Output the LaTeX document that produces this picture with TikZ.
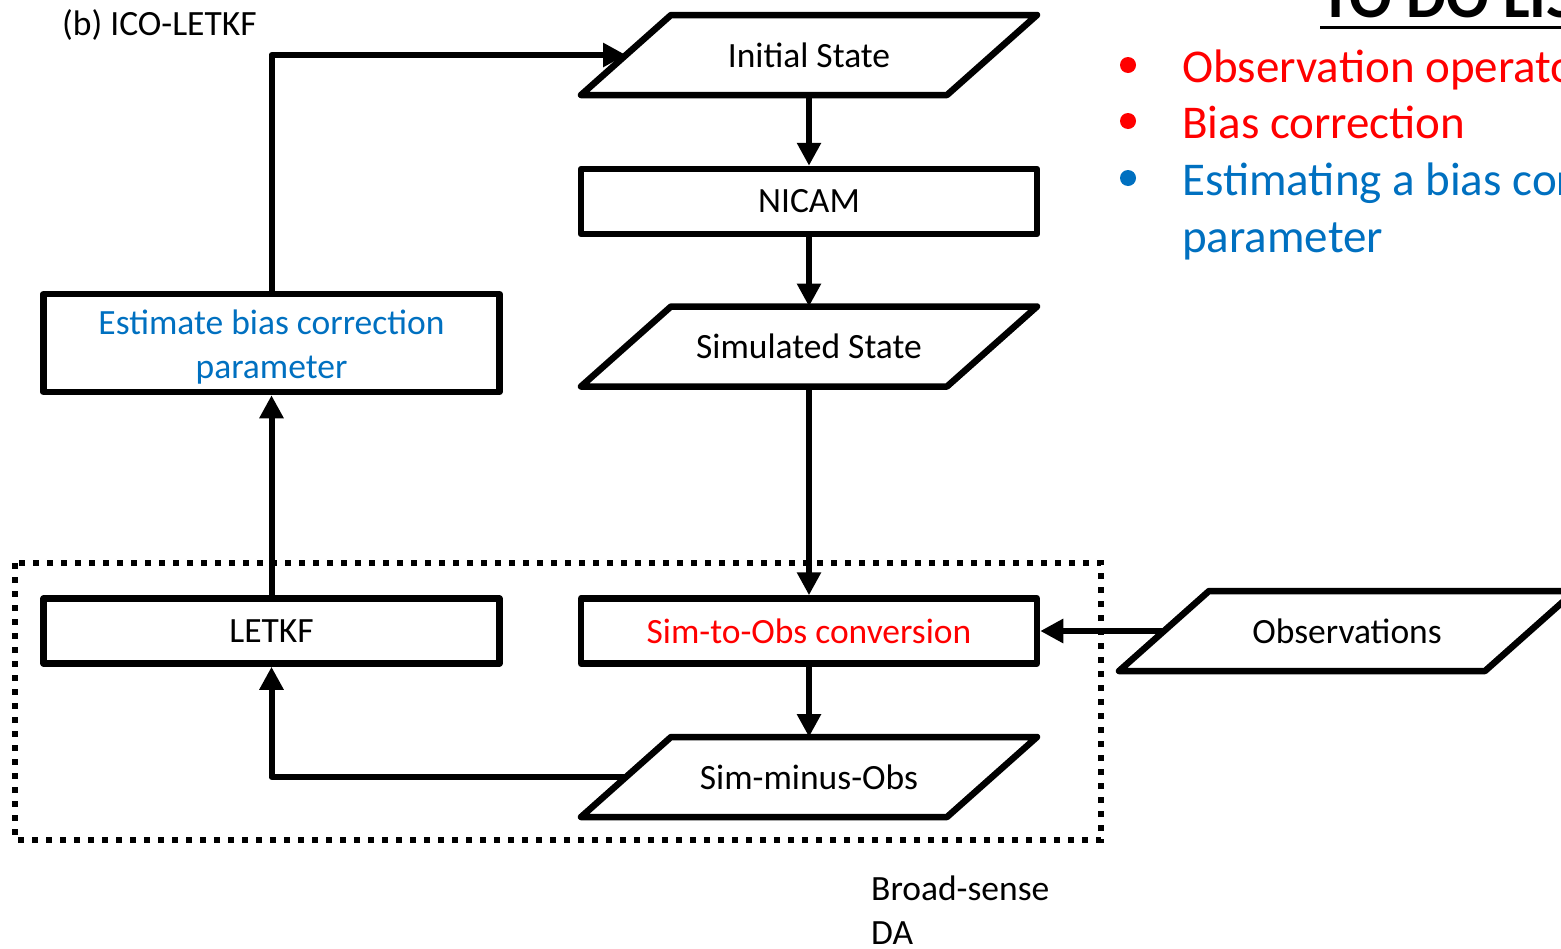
\documentclass[tikz,border=0pt]{standalone}
\usepackage{fontspec}
\setmainfont{Carlito}
\usetikzlibrary{arrows.meta, positioning}
\definecolor{todored}{RGB}{255,0,0}
\definecolor{todoblue}{RGB}{0,112,192}
\tikzset{
  boxfont/.style={font=\fontsize{35.5}{43.5}\selectfont},
  procbox/.style={draw, line width=6.5pt, line join=round, rectangle, minimum width=456pt,
    minimum height=65pt, align=center, inner sep=0pt, boxfont},
  databox/.style={procbox, draw=none, outer sep=0pt, minimum height=80pt},
  dataline/.style={line width=6.5pt, line join=round},
  flow/.style={line width=6pt, line join=round, -{Triangle[length=23pt, width=23pt]}},
}

\begin{document}
\begin{tikzpicture}[x=1pt, y=-1pt]
  \useasboundingbox (0,0) rectangle (1561,948);
  \clip (0,0) rectangle (1561,948);

  \node[anchor=base west, inner sep=0pt, boxfont] (title) at (62,35) {(b) ICO-LETKF};

  % broad-sense DA region
  \draw[line width=6pt, dash pattern=on 6pt off 8pt] (15,563) rectangle (1101,840);
  \node[anchor=north west, align=left, inner sep=0pt, boxfont] (da) at (871,876) {Broad-sense\\DA};

  % flow chart
  \node[databox] (init) at (809,55) {Initial State};
  \node[procbox] (nicam) at (809,201.5) {NICAM};
  \node[databox] (sim) at (809,346.5) {Simulated State};
  \node[procbox, text=todored] (s2o) at (809,631) {Sim-to-Obs conversion};
  \node[databox] (smo) at (809,777) {Sim-minus-Obs};
  \node[procbox] (letkf) at (271.5,631) {LETKF};
  \node[procbox, minimum height=98pt, text=todoblue] (est) at (271.5,343) {\rule{0pt}{33pt}Estimate bias correction\\parameter};
  \node[databox] (obs) at (1347,631) {Observations};

  % parallelograms
  \foreach \n in {init, sim, smo, obs}
    \draw[dataline] ([xshift=90pt]\n.north west) -- (\n.north east)
      -- ([xshift=-90pt]\n.south east) -- (\n.south west) -- cycle;

  \foreach \a/\b in {init/nicam, nicam/sim, sim/s2o, s2o/smo}
    \draw[flow] (\a) -- (\b);
  \draw[flow] ([xshift=45pt]obs.west) -- (s2o.east);
  \draw[flow] ([xshift=45pt]smo.west) -| (letkf.south);
  \draw[flow] (letkf) -- (est);
  \draw[flow] (est.north) |- ([xshift=45pt]init.west);

  % to do list
  \node[anchor=base west, inner sep=0pt, font=\bfseries\fontsize{63}{70}\selectfont] (todo) at (1320,17) {TO DO LIST};
  \draw[line width=3pt] ([yshift=-10pt]todo.base west) -- ([yshift=-10pt]todo.base east);
  \foreach \y/\c/\t in {82/todored/Observation operator, 138/todored/Bias correction,
                        195/todoblue/Estimating a bias correction} {
    \node[circle, fill=\c, inner sep=0pt, minimum size=16pt] (dot\y) at (1128,\y-17) {};
    \node[anchor=base west, inner sep=0pt, text=\c, font=\fontsize{47}{57}\selectfont] (item\y) at (1182,\y) {\t};
  }
  \node[anchor=base west, inner sep=0pt, text=todoblue, font=\fontsize{47}{57}\selectfont] (item252) at (1182,252) {parameter};
\end{tikzpicture}
\end{document}
